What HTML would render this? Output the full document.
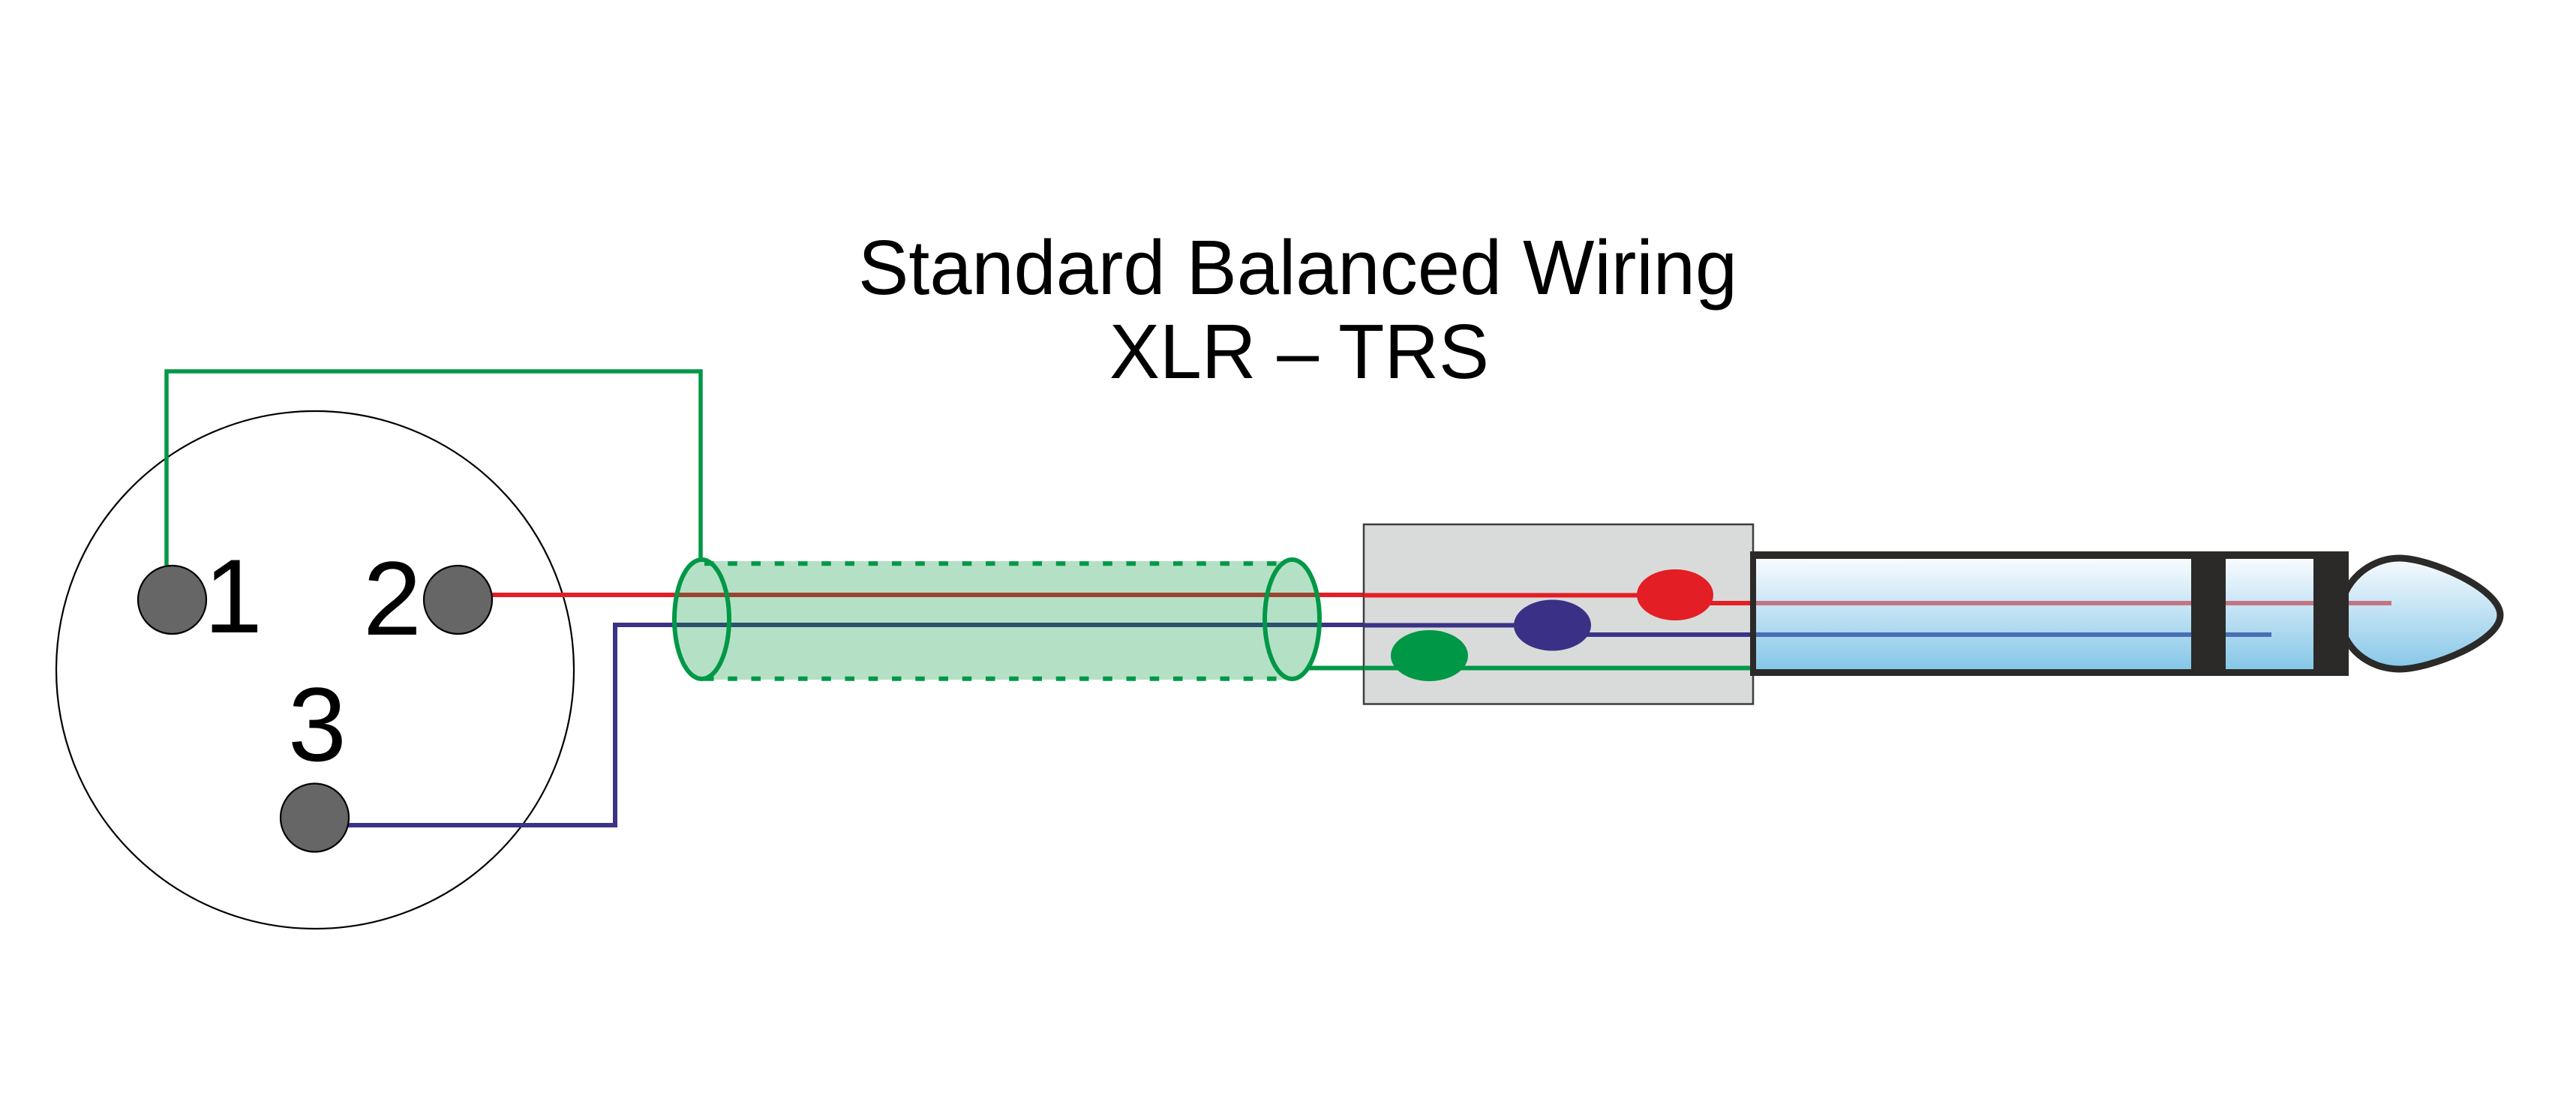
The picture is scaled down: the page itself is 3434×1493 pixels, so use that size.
<!DOCTYPE html>
<html>
<head>
<meta charset="utf-8">
<style>
  html, body { margin: 0; padding: 0; background: #ffffff; }
  body { width: 3434px; height: 1493px; overflow: hidden; }
  svg { display: block; }
  text { font-family: "Liberation Sans", Arial, sans-serif; fill: #000; }
</style>
</head>
<body>
<svg width="3434" height="1493" viewBox="0 0 3434 1493" xmlns="http://www.w3.org/2000/svg">
  <defs>
    <linearGradient id="plugGrad" x1="0" y1="745" x2="0" y2="892" gradientUnits="userSpaceOnUse">
      <stop offset="0" stop-color="#f8fbfe"/>
      <stop offset="1" stop-color="#86c7e8"/>
    </linearGradient>
    <linearGradient id="tipGrad" x1="0" y1="744" x2="0" y2="892" gradientUnits="userSpaceOnUse">
      <stop offset="0" stop-color="#f8fbfe"/>
      <stop offset="1" stop-color="#86c7e8"/>
    </linearGradient>
    <clipPath id="cylClip">
      <rect x="935.5" y="746" width="787" height="160"/>
      <ellipse cx="935.5" cy="825.5" rx="36.5" ry="79.5"/>
      <ellipse cx="1722.5" cy="825.5" rx="36.5" ry="79.5"/>
    </clipPath>
  </defs>

  <rect x="0" y="0" width="3434" height="1493" fill="#ffffff"/>

  <!-- Title -->
  <text x="1730" y="392" font-size="103" text-anchor="middle" textLength="1172" lengthAdjust="spacingAndGlyphs">Standard Balanced Wiring</text>
  <text x="1732" y="504" font-size="103" text-anchor="middle" textLength="506" lengthAdjust="spacingAndGlyphs">XLR – TRS</text>

  <!-- XLR body -->
  <circle cx="420" cy="893" r="345" fill="none" stroke="#000" stroke-width="2.2"/>

  <!-- Wires (outside) -->
  <polyline points="222,755 222,495 934,495 934,748" fill="none" stroke="#009846" stroke-width="5.5"/>
  <line x1="655" y1="793" x2="2190" y2="793" stroke="#e31e25" stroke-width="6"/>
  <polyline points="464,1100 820,1100 820,833 2025,833" fill="none" stroke="#3b3388" stroke-width="6"/>

  <!-- Pins -->
  <circle cx="229.5" cy="799.5" r="45.5" fill="#666666" stroke="#000" stroke-width="2.2"/>
  <circle cx="610.5" cy="799.5" r="45.5" fill="#666666" stroke="#000" stroke-width="2.2"/>
  <circle cx="419.5" cy="1090" r="45.5" fill="#666666" stroke="#000" stroke-width="2.2"/>

  <!-- Pin labels -->
  <text x="272" y="843" font-size="140">1</text>
  <text x="484" y="846" font-size="140">2</text>
  <text x="384" y="1014" font-size="140">3</text>

  <!-- Cable cylinder -->
  <g>
    <rect x="935.5" y="748" width="787" height="158" fill="#b4e1c6"/>
    <ellipse cx="935.5" cy="825.5" rx="36.5" ry="79.5" fill="#b4e1c6"/>
    <ellipse cx="1722.5" cy="825.5" rx="36.5" ry="79.5" fill="#b4e1c6"/>
    <g clip-path="url(#cylClip)">
      <line x1="880" y1="793" x2="1780" y2="793" stroke="#9a4530" stroke-width="6"/>
      <line x1="880" y1="833" x2="1780" y2="833" stroke="#2c5070" stroke-width="6"/>
    </g>
    <line x1="939" y1="751.3" x2="1705" y2="751.3" stroke="#009846" stroke-width="6" stroke-dasharray="12.5 18.75"/>
    <line x1="939" y1="904.7" x2="1705" y2="904.7" stroke="#009846" stroke-width="6" stroke-dasharray="12.5 18.75"/>
    <ellipse cx="935.5" cy="825.5" rx="36.5" ry="79.5" fill="none" stroke="#009846" stroke-width="6"/>
    <ellipse cx="1722.5" cy="825.5" rx="36.5" ry="79.5" fill="none" stroke="#009846" stroke-width="6"/>
  </g>

  <line x1="1745" y1="890.5" x2="1860" y2="890.5" stroke="#009846" stroke-width="6"/>

  <!-- Gray solder box -->
  <rect x="1818" y="699" width="519" height="239.5" fill="#d9dbda" stroke="#3d3d3d" stroke-width="2.5"/>

  <line x1="1818" y1="793.5" x2="2190" y2="793.5" stroke="#e31e25" stroke-width="6"/>
  <line x1="1818" y1="833.5" x2="2025" y2="833.5" stroke="#3b3388" stroke-width="6"/>
  <line x1="1818" y1="890.5" x2="2340" y2="890.5" stroke="#009846" stroke-width="6"/>
  <line x1="2280" y1="804" x2="2340" y2="804" stroke="#e31e25" stroke-width="6"/>
  <line x1="2115" y1="846" x2="2340" y2="846" stroke="#3b3388" stroke-width="6"/>

  <ellipse cx="2233" cy="793" rx="51" ry="34" fill="#e31e25"/>
  <ellipse cx="2069.5" cy="833.5" rx="51.5" ry="34" fill="#3a3186"/>
  <ellipse cx="1905.5" cy="874" rx="51.5" ry="34" fill="#009846"/>

  <!-- TRS plug -->
  <path d="M 3120 820 C 3120 775, 3160 744, 3198 744 C 3240 744, 3333 785, 3333 820 C 3333 855, 3240 892, 3198 892 C 3160 892, 3120 865, 3120 820 Z"
        fill="url(#tipGrad)" stroke="#2b2a28" stroke-width="9"/>
  <rect x="2333" y="735" width="798" height="166" fill="#2b2a28"/>
  <rect x="2341" y="745" width="580" height="147" fill="url(#plugGrad)"/>
  <rect x="2967" y="745" width="117" height="147" fill="url(#plugGrad)"/>

  <line x1="2341" y1="804" x2="3188" y2="804" stroke="#c47585" stroke-width="6"/>
  <line x1="2341" y1="846" x2="3028" y2="846" stroke="#4a6fb5" stroke-width="6"/>

  <rect x="2921" y="735" width="46" height="166" fill="#2b2a28"/>
  <rect x="3084" y="735" width="47" height="166" fill="#2b2a28"/>
</svg>
</body>
</html>
